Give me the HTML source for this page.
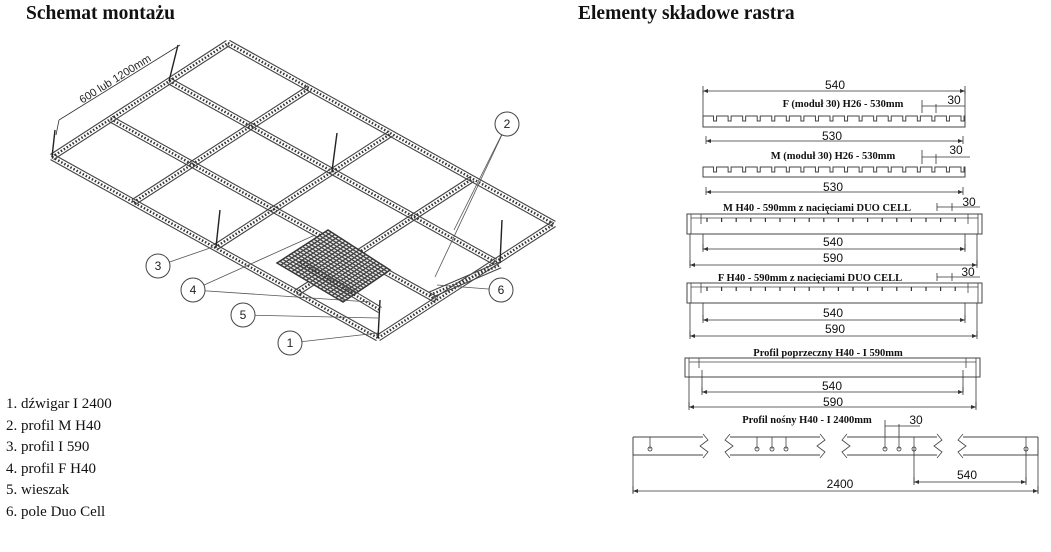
<!DOCTYPE html>
<html><head><meta charset="utf-8">
<style>
html,body{margin:0;padding:0;background:#fff;}
body{width:1051px;height:552px;overflow:hidden;position:relative;font-family:"Liberation Serif",serif;}
.h{position:absolute;font-weight:bold;font-size:19.5px;color:#111;top:3px;}
.list{position:absolute;left:6px;top:394px;font-size:15px;line-height:21.6px;color:#111;}
svg{position:absolute;left:0;top:0;}
</style></head><body>
<div class="h" style="left:26px">Schemat montażu</div>
<div class="h" style="left:578px">Elementy składowe rastra</div>
<div class="list">1. dźwigar I 2400<br>2. profil M H40<br>3. profil I 590<br>4. profil F H40<br>5. wieszak<br>6. pole Duo Cell</div>
<svg id="s" width="1051" height="552" viewBox="0 0 1051 552" font-family="Liberation Sans, sans-serif">
<g id="g"></g>
<g fill="#222" font-size="12" text-anchor="middle">
<text x="0" y="0" transform="translate(117,82) rotate(-32)" font-size="11">600 lub 1200mm</text>
</g>
<g fill="#fff" stroke="#444" stroke-width="1">
<circle cx="507" cy="124" r="12"/><circle cx="158" cy="266" r="12"/><circle cx="193" cy="290" r="12"/>
<circle cx="243" cy="315" r="12"/><circle cx="290" cy="343" r="12"/><circle cx="501" cy="290" r="12"/>
</g>
<g fill="#222" font-size="12" text-anchor="middle">
<text x="507" y="128">2</text><text x="158" y="270">3</text><text x="193" y="294">4</text>
<text x="243" y="319">5</text><text x="290" y="347">1</text><text x="501" y="294">6</text>
</g>
<g fill="#111" font-size="12" text-anchor="middle">
<text x="835" y="89">540</text><text x="832" y="140">530</text><text x="833" y="191">530</text>
<text x="833" y="246">540</text><text x="833" y="262">590</text>
<text x="833" y="317">540</text><text x="835" y="333">590</text>
<text x="832" y="390">540</text><text x="833" y="406">590</text>
<text x="967" y="479">540</text><text x="840" y="488">2400</text>
<text x="954" y="104">30</text><text x="956" y="154">30</text><text x="969" y="206">30</text><text x="968" y="276">30</text><text x="916" y="424">30</text>
</g>
<g fill="#111" font-size="10.5" font-weight="bold" font-family="Liberation Serif, serif" text-anchor="middle">
<text x="843" y="107">F (moduł 30) H26 - 530mm</text>
<text x="833" y="159">M (moduł 30) H26 - 530mm</text>
<text x="817" y="211">M H40 - 590mm z nacięciami  DUO CELL</text>
<text x="810" y="281">F H40 - 590mm z nacięciami DUO CELL</text>
<text x="828" y="356">Profil poprzeczny H40 - I 590mm</text>
<text x="807" y="423">Profil nośny H40 -  I 2400mm</text>
</g>
</svg>
<script>
var g=document.getElementById('g'),out='';
function L(x1,y1,x2,y2,c,w,d){out+='<line x1="'+x1+'" y1="'+y1+'" x2="'+x2+'" y2="'+y2+'" stroke="'+(c||'#333')+'" stroke-width="'+(w||1)+'"'+(d?' stroke-dasharray="'+d+'"':'')+'/>';}
function beam(x1,y1,x2,y2){var dx=x2-x1,dy=y2-y1,l=Math.hypot(dx,dy),nx=-dy/l*3,ny=dx/l*3;
L(x1+nx,y1+ny,x2+nx,y2+ny,'#444',1.1);L(x1-nx,y1-ny,x2-nx,y2-ny,'#444',1.1);L(x1,y1,x2,y2,'#333',2.5,'1.5 2');}
var Lx=52,Ly=157,ux=326,uy=181,vx=176,vy=-114;
function P(a,b){return [Lx+ux*a+vx*b,Ly+uy*a+vy*b];}
[0,1/3,2/3,1].forEach(function(b){var p=P(0,b),q=P(1,b);beam(p[0],p[1],q[0],q[1]);});
[0,.25,.5,.75,1].forEach(function(a){var p=P(a,0),q=P(a,1);beam(p[0],p[1],q[0],q[1]);});
[[169,81,178,45],[52,157,55,130],[332,171,337,133],[216,247,220,210],[500,263,502,220],[378,338,380,300]].forEach(function(h){L(h[0],h[1],h[2],h[3],'#222',1.4);});
L(59,120,180,45,'#333',0.8);L(59,120,56,135,'#333',.8);
var A=[277,263],B=[328,230],C=[390,270],D=[343,302];
out+='<polygon points="'+A+' '+B+' '+C+' '+D+'" fill="#eee" stroke="#333" stroke-width="1.5"/>';
for(var i=1;i<18;i++){var t=i/18;L(A[0]+(B[0]-A[0])*t,A[1]+(B[1]-A[1])*t,D[0]+(C[0]-D[0])*t,D[1]+(C[1]-D[1])*t,'#444',1.3);
L(A[0]+(D[0]-A[0])*t,A[1]+(D[1]-A[1])*t,B[0]+(C[0]-B[0])*t,B[1]+(C[1]-B[1])*t,'#444',1.3);}
beam(300,262,380,310);beam(430,295,500,265);
[[507,124,454,230],[507,124,435,277],[158,266,213,247],[193,290,315,235],[193,290,370,302],[243,315,378,318],[290,343,378,333],[501,290,437,285]].forEach(function(l){L(l[0],l[1],l[2],l[3],'#555',.8);});
function dim(x1,x2,y){L(x1,y,x2,y,'#333',.8);L(x1,y-5,x1,y+3,'#333',.8);L(x2,y-5,x2,y+3,'#333',.8);
out+='<path d="M'+x1+','+y+' l5,-2 v4 Z M'+x2+','+y+' l-5,-2 v4 Z" fill="#333"/>';}
function comb(x0,x1,yt,yb){var s='M'+x0+','+yb+' L'+x0+','+yt;var n=18,st=(x1-x0)/n;for(var i=0;i<n;i++){var a=x0+i*st;s+=' L'+(a+st-4)+','+yt+' L'+(a+st-4)+','+(yt+5)+' L'+(a+st-1)+','+(yt+5)+' L'+(a+st-1)+','+yt;}s+=' L'+x1+','+yt+' L'+x1+','+yb+' Z';out+='<path d="'+s+'" fill="none" stroke="#444" stroke-width="1"/>';}
dim(703,965,91);L(703,91,703,125,'#333',.8);L(965,91,965,125,'#333',.8);
comb(703,965,116,127);dim(706,963,141);
L(922,100,922,113,'#333',.8);L(936,104,936,113,'#333',.8);L(922,106,965,106,'#333',.8);
comb(703,965,167,177);dim(706,963,192);
L(922,150,922,164,'#333',.8);L(936,154,936,164,'#333',.8);L(922,157,970,157,'#333',.8);
function h40(x0,x1,yt,yb,ticks){out+='<rect x="'+x0+'" y="'+yt+'" width="'+(x1-x0)+'" height="'+(yb-yt)+'" fill="none" stroke="#444"/>';
L(x0+4,yt+4,x1-4,yt+4,'#444',.8);L(x0+4,yt,x0+4,yb,'#444',.8);L(x1-4,yt,x1-4,yb,'#444',.8);
if(ticks){for(var x=x0+20;x<x1-15;x+=14.6)L(x,yt+4,x,yt+8,'#333',1.2);}
L(x0+14,yt,x0+14,yt+10,'#444',.8);L(x1-14,yt,x1-14,yt+10,'#444',.8);}
h40(687,982,214,234,1);L(703,234,703,250,'#333',.8);L(965,234,965,250,'#333',.8);dim(703,965,249);L(690,234,690,266,'#333',.8);L(977,234,977,266,'#333',.8);dim(690,977,265);
L(937,203,937,211,'#333',.8);L(952,203,952,211,'#333',.8);L(937,207,980,207,'#333',.8);
h40(687,982,283,303,1);L(703,303,703,320,'#333',.8);L(965,303,965,320,'#333',.8);dim(703,965,320);L(690,303,690,336,'#333',.8);L(977,303,977,336,'#333',.8);dim(690,977,336);
L(937,273,937,281,'#333',.8);L(952,273,952,281,'#333',.8);L(937,277,980,277,'#333',.8);
h40(685,980,358,377,0);L(702,370,702,392,'#333',.8);L(963,370,963,392,'#333',.8);dim(702,963,392);L(689,377,689,407,'#333',.8);L(976,377,976,407,'#333',.8);dim(689,976,407);
[[633,703],[730,820],[847,937],[963,1038]].forEach(function(s,i){L(s[0],437,s[1],437,'#444',1);L(s[0],455,s[1],455,'#444',1);
if(i==0)L(633,437,633,455,'#444',1);if(i==3)L(1038,437,1038,455,'#444',1);
if(i>0){out+='<polyline points="'+s[0]+',434 '+(s[0]-5)+',440 '+(s[0]+3)+',446 '+(s[0]-5)+',452 '+s[0]+',458" fill="none" stroke="#444" stroke-width=".8"/>';}
if(i<3){out+='<polyline points="'+s[1]+',434 '+(s[1]+5)+',440 '+(s[1]-3)+',446 '+(s[1]+5)+',452 '+s[1]+',458" fill="none" stroke="#444" stroke-width=".8"/>';}});
[650,757,772,786,885,899,914,1026].forEach(function(x){L(x,437,x,449,'#444',.8);out+='<circle cx="'+x+'" cy="449" r="2" fill="none" stroke="#333" stroke-width=".8"/>';});
L(885,420,885,437,'#333',.8);L(899,424,899,437,'#333',.8);L(885,426,920,426,'#333',.8);
L(914,449,914,483,'#333',.8);L(1026,449,1026,483,'#333',.8);dim(914,1026,482);
L(633,455,633,493,'#333',.8);L(1038,455,1038,493,'#333',.8);dim(633,1038,491);
g.innerHTML=out;
</script>
</body></html>
